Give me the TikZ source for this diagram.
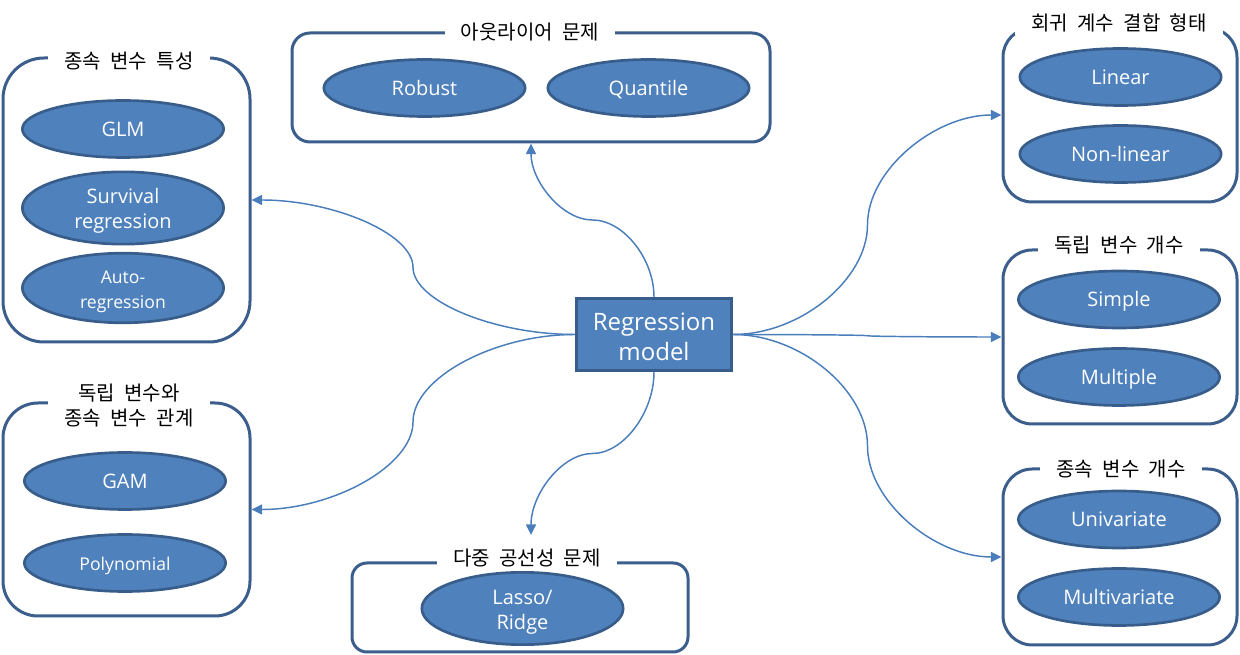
\documentclass[tikz,border=0pt]{standalone}
\usepackage{fontspec}
\setmainfont{Open Sans}
\newfontfamily\kr[WordSpace=2.1]{Noto Sans CJK KR}
\usetikzlibrary{arrows.meta,shapes.geometric}
\definecolor{efill}{HTML}{4F81BD}
\definecolor{eline}{HTML}{385D8A}
\definecolor{bline}{HTML}{3B5E8C}
\definecolor{cline}{HTML}{4A7EBB}
\begin{document}
\begin{tikzpicture}[x=0.75pt,y=-0.75pt,
  ell/.style={ellipse, draw=eline, fill=efill, line width=2pt, minimum width=151pt, minimum height=42.75pt, inner sep=0pt, text=white, font=\fontsize{15pt}{18.75pt}\selectfont, align=center},
  one/.style={text height=11pt, text depth=0pt},
  small/.style={font=\fontsize{13.2pt}{18.75pt}\selectfont},
  box/.style={draw=bline, line width=2.25pt, inner sep=0pt},
  title/.style={fill=white, font=\kr\fontsize{15pt}{18.75pt}\selectfont, inner xsep=12pt, inner ysep=2pt, align=center},
  conn/.style={draw=cline, line width=1.1pt, -{Triangle[length=8pt,width=7.5pt]}},
  center/.style={rectangle, draw=eline, fill=efill, line width=2.25pt, minimum width=116.25pt, minimum height=54pt, inner sep=0pt, text=white, font=\fontsize{18pt}{22.5pt}\selectfont, align=center}
]
\useasboundingbox (0,0) rectangle (1240,655);

% boxes
\node[box, minimum width=185.25pt, minimum height=213pt, rounded corners=30.75pt] (b1) at (126.5,200) {};
\node[box, minimum width=185.25pt, minimum height=159.75pt, rounded corners=26.25pt] (b2) at (126.5,509.5) {};
\node[box, minimum width=358.5pt, minimum height=81.75pt, rounded corners=13.5pt] (b3) at (531,87.5) {};
\node[box, minimum width=252pt, minimum height=66.75pt, rounded corners=11.25pt] (b4) at (520,607.5) {};
\node[box, minimum width=175.5pt, minimum height=130.5pt, rounded corners=21.75pt] (b5) at (1120,115) {};
\node[box, minimum width=175.5pt, minimum height=130.5pt, rounded corners=21.75pt] (b6) at (1120,337) {};
\node[box, minimum width=175.5pt, minimum height=132pt, rounded corners=22pt] (b7) at (1120,557) {};

% titles
\node[title] (t1) at (129,61) {종속 변수 특성};
\node[title] (t2) at (129,405.5) {독립 변수와\\종속 변수 관계};
\node[title] (t3) at (530,32) {아웃라이어 문제};
\node[title] (t4) at (527,558) {다중 공선성 문제};
\node[title] (t5) at (1119,23) {회귀 계수 결합 형태};
\node[title] (t6) at (1119,245) {독립 변수 개수};
\node[title] (t7) at (1121,469) {종속 변수 개수};

% ellipses
\node[ell, one] (e11) at (123,129) {GLM};
\node[ell] (e12) at (123,208) {\rule{0pt}{16pt}Survival\\regression};
\node[ell, small] (e13) at (123,288) {\rule{0pt}{15pt}Auto-\\regression};
\node[ell, one] (e21) at (125,481) {GAM};
\node[ell, small, one] (e22) at (125,563) {Polynomial};
\node[ell, one] (e31) at (424.5,88) {Robust};
\node[ell, one] (e32) at (648.5,88) {Quantile};
\node[ell, minimum height=40.5pt] (e41) at (522.5,608.5) {\rule{0pt}{16pt}Lasso/\\Ridge};
\node[ell, one] (e51) at (1120.5,77) {Linear};
\node[ell, one] (e52) at (1120.5,154) {Non-linear};
\node[ell, one] (e61) at (1119,299.5) {Simple};
\node[ell, one] (e62) at (1119,377) {Multiple};
\node[ell, one] (e71) at (1119,519.5) {Univariate};
\node[ell, one] (e72) at (1119,597) {Multivariate};

% center
\node[center] (c) at (654,334.5) {\rule{0pt}{16pt}Regression\\model};

\coordinate (bend) at (531,535);

% connectors
\draw[conn] (c.west) .. controls (494,334.5) and (413,301) .. (413,267.25) .. controls (413,233.5) and (332.5,200) .. (b1.east);
\draw[conn] (c.west) .. controls (494,334.5) and (413,378) .. (413,422) .. controls (413,466) and (332.5,509.5) .. (b2.east);
\draw[conn] (c.north) .. controls (654,258.5) and (623.25,220) .. (592.5,220) .. controls (561.75,220) and (531,181) .. (b3.south);
\draw[conn] (c.south) .. controls (654,412.75) and (623.25,453.5) .. (592.5,453.5) .. controls (561.75,453.5) and (531,494.25) .. (bend);
\draw[conn] (c.east) .. controls (800.25,334.5) and (867.5,279.6) .. (867.5,224.75) .. controls (867.5,169.9) and (934.75,115) .. (b5.west);
\draw[conn] (c.east) .. controls (800.25,334.5) and (867.5,335.1) .. (867.5,335.75) .. controls (867.5,336.4) and (934.75,337) .. (b6.west);
\draw[conn] (c.east) .. controls (800.25,334.5) and (867.5,390.1) .. (867.5,445.75) .. controls (867.5,501.4) and (934.75,557) .. (b7.west);
\end{tikzpicture}
\end{document}
